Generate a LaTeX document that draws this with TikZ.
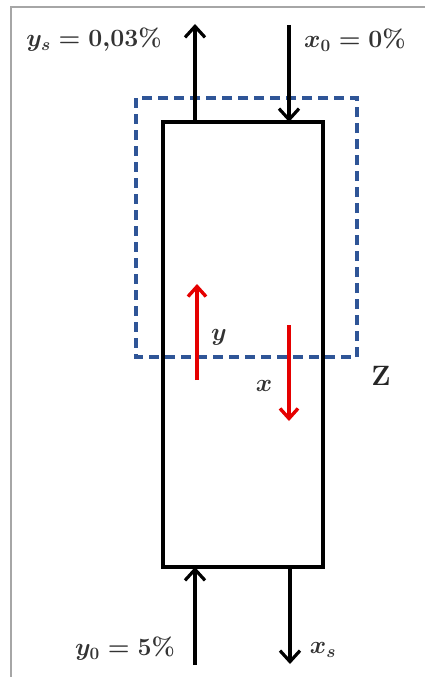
\documentclass[tikz,border=0pt]{standalone}
\usetikzlibrary{arrows.meta}
\begin{document}
\begin{tikzpicture}[x=1pt,y=-1pt,
  flow/.style={line width=3.2pt,-{Straight Barb[length=11pt,width=20pt,line width=3.2pt]}},
  redflow/.style={line width=3.4pt,red!90!black,-{Straight Barb[length=10pt,width=18pt,line width=3.4pt]}},
  lbl/.style={font=\fontsize{23}{27}\selectfont\boldmath, text=black!80, inner sep=0pt}]
\useasboundingbox (0,0) rectangle (425,677);
\fill[white] (0,0) rectangle (425,677);
% frame
\draw[gray!70, line width=1.2pt] (11,677) -- (11,7) -- (425,7);
% column
\node[draw, line width=3.4pt, minimum width=160pt, minimum height=445pt, inner sep=0pt] (col) at (243,344.5) {};
% control volume
\draw[dashed, dash pattern=on 10pt off 6pt, line width=3.2pt, color={rgb,255:red,47;green,85;blue,151}] (136,98) rectangle (357,357);
% flow coordinates
\coordinate (ysEnd) at (195,24);
\coordinate (x0Start) at (289,25);
\coordinate (y0Start) at (195,665);
\coordinate (xsEnd) at (290,664);
\coordinate (colTL) at (195,122);
\coordinate (colTR) at (289,122);
\coordinate (colBL) at (195,567);
\coordinate (colBR) at (290,567);
\draw[flow] (colTL) -- (ysEnd);
\draw[flow] (x0Start) -- (colTR);
\draw[flow] (y0Start) -- (colBL);
\draw[flow] (colBR) -- (xsEnd);
% internal flows
\coordinate (ra) at (197,380);
\coordinate (rb) at (197,284);
\coordinate (rc) at (289,325);
\coordinate (rd) at (289,421);
\draw[redflow] (ra) -- (rb);
\draw[redflow] (rc) -- (rd);
% labels
\node[lbl] (lys) at (94,40) {$y_s = 0{,}03\%$};
\node[lbl] (lx0) at (355,40) {$x_0 = 0\%$};
\node[lbl] (ly0) at (125,649) {$y_0 = 5\%$};
\node[lbl] (lxs) at (323,650) {$x_s$};
\node[lbl] (ly) at (219,337) {$y$};
\node[lbl] (lx) at (264,386) {$x$};
\node[font=\fontsize{28}{32}\selectfont\bfseries, text=black!85, inner sep=0pt] (lz) at (381,376) {Z};
\end{tikzpicture}
\end{document}
